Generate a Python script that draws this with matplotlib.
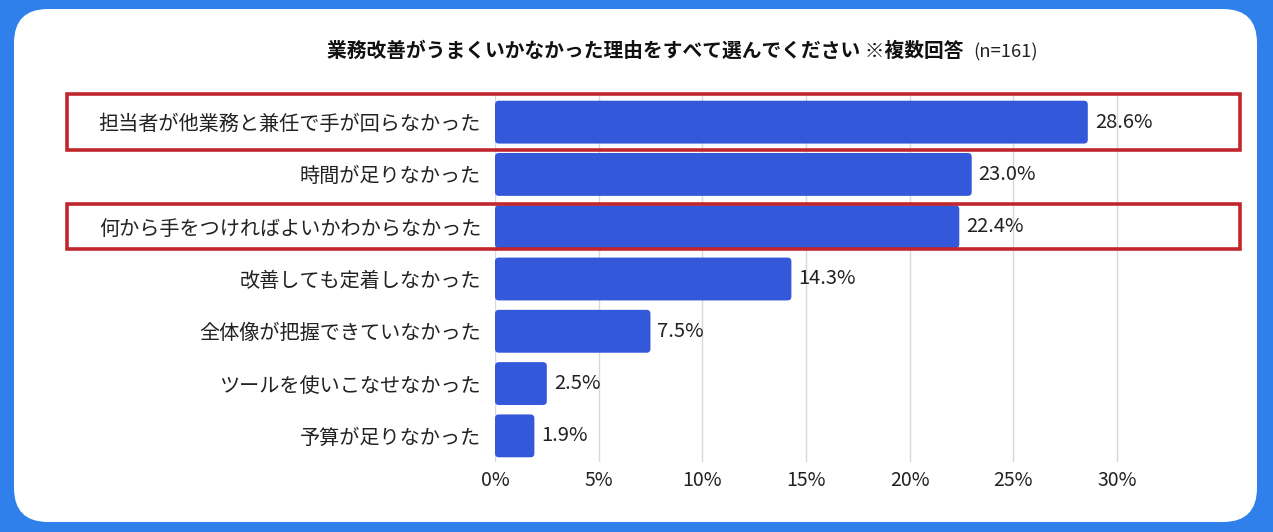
import matplotlib.pyplot as plt
from matplotlib.patches import FancyBboxPatch, Rectangle
from matplotlib.transforms import IdentityTransform, blended_transform_factory

plt.rcParams['font.family'] = ['Noto Sans CJK JP', 'DejaVu Sans']

# data (top to bottom)
reasons = [
    '担当者が他業務と兼任で手が回らなかった',
    '時間が足りなかった',
    '何から手をつければよいかわからなかった',
    '改善しても定着しなかった',
    '全体像が把握できていなかった',
    'ツールを使いこなせなかった',
    '予算が足りなかった',
]
shares = [28.6, 23.0, 22.4, 14.3, 7.5, 2.5, 1.9]
ticks = [0, 5, 10, 15, 20, 25, 30]
highlighted = {0: 0.54, 2: 0.43}   # row index -> half height of red frame

titleText = '業務改善がうまくいかなかった理由をすべて選んでください ※複数回答'
nText = '(n=161)'

outerBlue = '#2f80ea'
barBlue = '#3358da'
frameRed = '#c0262c'

fig = plt.figure(figsize=(12.73, 5.32), dpi=100)
fig.patch.set_facecolor(outerBlue)

# white rounded panel (pixel coords), behind the axes
panel = FancyBboxPatch((14, 10), 1243, 513, boxstyle='round,pad=0,rounding_size=34',
                       transform=IdentityTransform(), facecolor='white', edgecolor='none',
                       zorder=-5)
fig.add_artist(panel)

ax = fig.add_axes([495 / 1273, 70 / 532, (1179 - 495) / 1273, 366 / 532])
ax.set_facecolor('none')
ax.set_zorder(1)

ypos = list(range(len(reasons)))
bars = ax.barh(ypos, shares, height=0.82, color=barBlue, zorder=3)

# swap the plain bars for slightly rounded ones (same geometry)
for b in bars:
    rb = FancyBboxPatch((b.get_x(), b.get_y()), b.get_width(), b.get_height(),
                        boxstyle='round,pad=0,rounding_size=0.19', mutation_aspect=0.40,
                        facecolor=barBlue, edgecolor='none', zorder=3)
    ax.add_patch(rb)
    b.set_visible(False)

for y, v in zip(ypos, shares):
    ax.annotate(f'{v:.1f}%', (v, y), xytext=(5, 0), textcoords='offset points',
                va='center', ha='left', fontsize=14.5, color='#222222')

ax.set_yticks(ypos, labels=reasons, fontsize=14.5, color='#222222')
ax.set_xticks(ticks, labels=[f'{t}%' for t in ticks], fontsize=14, color='#222222')
ax.set_xlim(0, 33)
ax.set_ylim(len(reasons) - 0.5, -0.5)
ax.tick_params(length=0)
ax.tick_params(axis='y', pad=10)
ax.tick_params(axis='x', pad=6)
ax.grid(axis='x', color='#d8d8d8', linewidth=1, zorder=0)
for s in ax.spines.values():
    s.set_visible(False)

# red frames around highlighted rows
trans = blended_transform_factory(fig.transFigure, ax.transData)
for row, half in highlighted.items():
    rect = Rectangle((67 / 1273, row - half), (1240 - 67) / 1273, 2 * half,
                     transform=trans, fill=False, edgecolor=frameRed, linewidth=2.6,
                     clip_on=False, zorder=5)
    fig.add_artist(rect)

fig.text(963 / 1273, 1 - 51 / 532, titleText, ha='right', va='center',
         fontsize=14.2, fontweight='bold', color='#111111')
fig.text(973 / 1273, 1 - 52 / 532, nText, ha='left', va='center',
         fontsize=13.3, color='#222222')

fig.savefig('out.png', dpi=100, facecolor=fig.get_facecolor())
